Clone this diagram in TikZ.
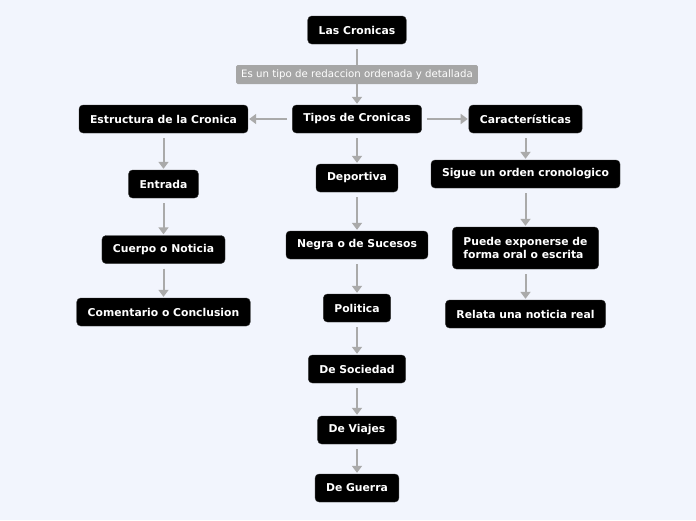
\documentclass[tikz,border=0pt]{standalone}
\usepackage{fontspec}
\setmainfont{DejaVu Sans}
\usepackage{xcolor}
\usepackage{tikz}
\usetikzlibrary{positioning,arrows.meta}

\definecolor{fondo}{HTML}{F2F5FD}
\definecolor{flecha}{HTML}{AAAAAA}
\definecolor{etiqueta}{HTML}{A6A6A6}

\begin{document}
\begin{tikzpicture}[x=1pt,y=-1pt,
	tema/.style={rectangle,rounded corners=4pt,fill=black,draw=black!80,text=white,
		font=\fontsize{10.8}{13.5}\selectfont\bfseries,minimum height=28pt,inner xsep=11pt},
	nota/.style={rectangle,rounded corners=1.5pt,fill=etiqueta,text=white,
		font=\fontsize{10.2}{12}\selectfont,minimum height=19pt,inner xsep=5pt},
	enlace/.style={draw=flecha,line width=2pt,shorten <=5pt},
	flechita/.style={enlace,-{Triangle[length=7pt,width=10pt]},shorten >=1pt}]

	\fill[fondo] (0,0) rectangle (696,520);
	\useasboundingbox (0,0) rectangle (696,520);

	% raiz
	\node[tema] (cronicas) at (357,30) {Las Cronicas};
	\node[nota] (desc) at (357,74.5) {Es un tipo de redaccion ordenada y detallada};
	\node[tema] (tipos) at (357,119) {Tipos de Cronicas};
	\node[tema] (estructura) at (163.5,119) {Estructura de la Cronica};
	\node[tema] (caract) at (525.5,119) {Características};

	% estructura
	\node[tema] (entrada) at (163.5,184) {Entrada};
	\node[tema] (cuerpo) at (163.5,249.5) {Cuerpo o Noticia};
	\node[tema] (comentario) at (163.5,312) {Comentario o Conclusion};

	% tipos
	\node[tema] (deportiva) at (357,178) {Deportiva};
	\node[tema] (negra) at (357,245) {Negra o de Sucesos};
	\node[tema] (politica) at (357,308) {Politica};
	\node[tema] (sociedad) at (357,369) {De Sociedad};
	\node[tema] (viajes) at (357,430) {De Viajes};
	\node[tema] (guerra) at (357,488) {De Guerra};

	% caracteristicas
	\node[tema] (orden) at (525.5,174) {Sigue un orden cronologico};
	\node[tema,align=left,minimum height=42pt] (oral) at (525.5,248) {Puede exponerse de\\forma oral o escrita};
	\node[tema] (relata) at (525.5,314) {Relata una noticia real};

	\draw[enlace] (cronicas) -- (desc);
	\draw[flechita,shorten <=0pt] (desc) -- (tipos);
	\draw[flechita] (tipos) -- (estructura);
	\draw[flechita] (tipos) -- (caract);

	\draw[flechita] (estructura) -- (entrada);
	\draw[flechita] (entrada) -- (cuerpo);
	\draw[flechita] (cuerpo) -- (comentario);

	\draw[flechita] (tipos) -- (deportiva);
	\draw[flechita] (deportiva) -- (negra);
	\draw[flechita] (negra) -- (politica);
	\draw[flechita] (politica) -- (sociedad);
	\draw[flechita] (sociedad) -- (viajes);
	\draw[flechita] (viajes) -- (guerra);

	\draw[flechita] (caract) -- (orden);
	\draw[flechita] (orden) -- (oral);
	\draw[flechita] (oral) -- (relata);

\end{tikzpicture}
\end{document}
